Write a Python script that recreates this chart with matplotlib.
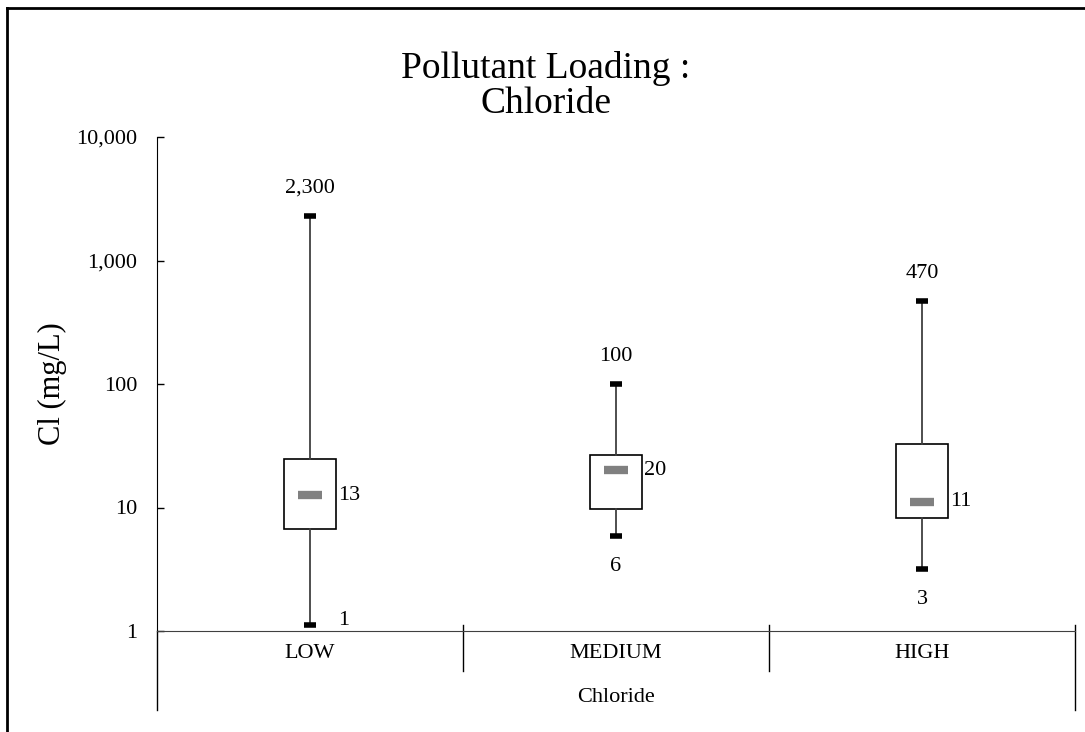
import numpy as np
import matplotlib
matplotlib.use('Agg')
import matplotlib.pyplot as plt
from matplotlib.lines import Line2D

categories = ['LOW', 'MEDIUM', 'HIGH']
mins = [1.12, 5.9, 3.16]
q1 = [6.7, 9.8, 8.2]
medians = [12.6, 20.0, 11.1]
q3 = [24.6, 26.6, 32.5]
maxs = [2300, 100, 470]
yticks = [1, 10, 100, 1000, 10000]

plt.rcParams['font.family'] = ['Liberation Serif', 'DejaVu Serif']

fig = plt.figure(figsize=(10.85, 7.32), dpi=100)
ax = fig.add_axes([157/1085, 101/732, 918/1085, 494/732])

x = np.arange(len(categories))
stats = []
for i in range(len(categories)):
    stats.append({'whislo': mins[i], 'q1': q1[i], 'med': medians[i],
                  'q3': q3[i], 'whishi': maxs[i]})

ax.bxp(stats, positions=x, widths=0.17, capwidths=0.04, showfliers=False,
       patch_artist=True,
       boxprops=dict(facecolor='white', edgecolor='black', linewidth=1.2),
       whiskerprops=dict(color='#404040', linewidth=1.3),
       capprops=dict(color='black', linewidth=4, solid_capstyle='butt'),
       medianprops=dict(linewidth=0))
# short grey median marks
ax.hlines(medians, x - 0.04, x + 0.04, colors='#808080', linewidth=6)

fs = 16
fmt = lambda v: '{:,.0f}'.format(v)
for i in range(len(categories)):
    ax.annotate(fmt(maxs[i]), (x[i], maxs[i]), xytext=(0, 20),
                textcoords='offset points', ha='center', va='center', fontsize=fs)
    ax.annotate(fmt(medians[i]), (x[i], medians[i]), xytext=(20, 0),
                textcoords='offset points', ha='left', va='center', fontsize=fs)
    if i == 0:
        ax.annotate(fmt(mins[i]), (x[i], mins[i]), xytext=(24, 3),
                    textcoords='offset points', ha='center', va='center', fontsize=fs)
    else:
        ax.annotate(fmt(mins[i]), (x[i], mins[i]), xytext=(0, -22),
                    textcoords='offset points', ha='center', va='center', fontsize=fs)

ax.set_yscale('log')
ax.set_ylim(1, 10000)
ax.set_xlim(-0.5, len(categories) - 0.5)
ax.set_yticks(yticks)
ax.set_yticklabels([fmt(v) for v in yticks])
ax.yaxis.set_minor_locator(matplotlib.ticker.NullLocator())
ax.tick_params(axis='y', direction='in', length=5, width=1, pad=14, labelsize=fs)
ax.set_xticks([])

for s in ['top', 'right']:
    ax.spines[s].set_visible(False)
ax.spines['left'].set_color('black')
ax.spines['bottom'].set_color('#404040')

# category axis: labels, dividers, extended frame lines
for i, c in enumerate(categories):
    ax.text((i + 0.5) / len(categories), -0.046, c, transform=ax.transAxes,
            ha='center', va='center', fontsize=fs)
for k in range(1, len(categories) + 1):
    bottom = -0.16 if k == len(categories) else -0.081
    ax.add_line(Line2D([k / len(categories)] * 2, [0.012, bottom], transform=ax.transAxes,
                       color='black', linewidth=1, clip_on=False))
ax.add_line(Line2D([0, 0], [0, -0.16], transform=ax.transAxes,
                   color='black', linewidth=1, clip_on=False))
ax.text(0.5, -0.134, 'Chloride', transform=ax.transAxes, ha='center', va='center',
        fontsize=fs)

ax.set_ylabel('Cl (mg/L)', fontsize=22)
ax.yaxis.set_label_coords(-90/918, 0.5)
fig.text(546/1085, 1 - 86/732, 'Pollutant Loading :\nChloride', ha='center', va='center',
         fontsize=27, linespacing=1.05)

# outer frame (left and top edges only)
fig.add_artist(Line2D([7/1085, 7/1085], [0, 1 - 8/732], transform=fig.transFigure,
                      color='black', linewidth=2))
fig.add_artist(Line2D([7/1085, 1], [1 - 8/732, 1 - 8/732], transform=fig.transFigure,
                      color='black', linewidth=2))

fig.savefig('out.png', dpi=100)
